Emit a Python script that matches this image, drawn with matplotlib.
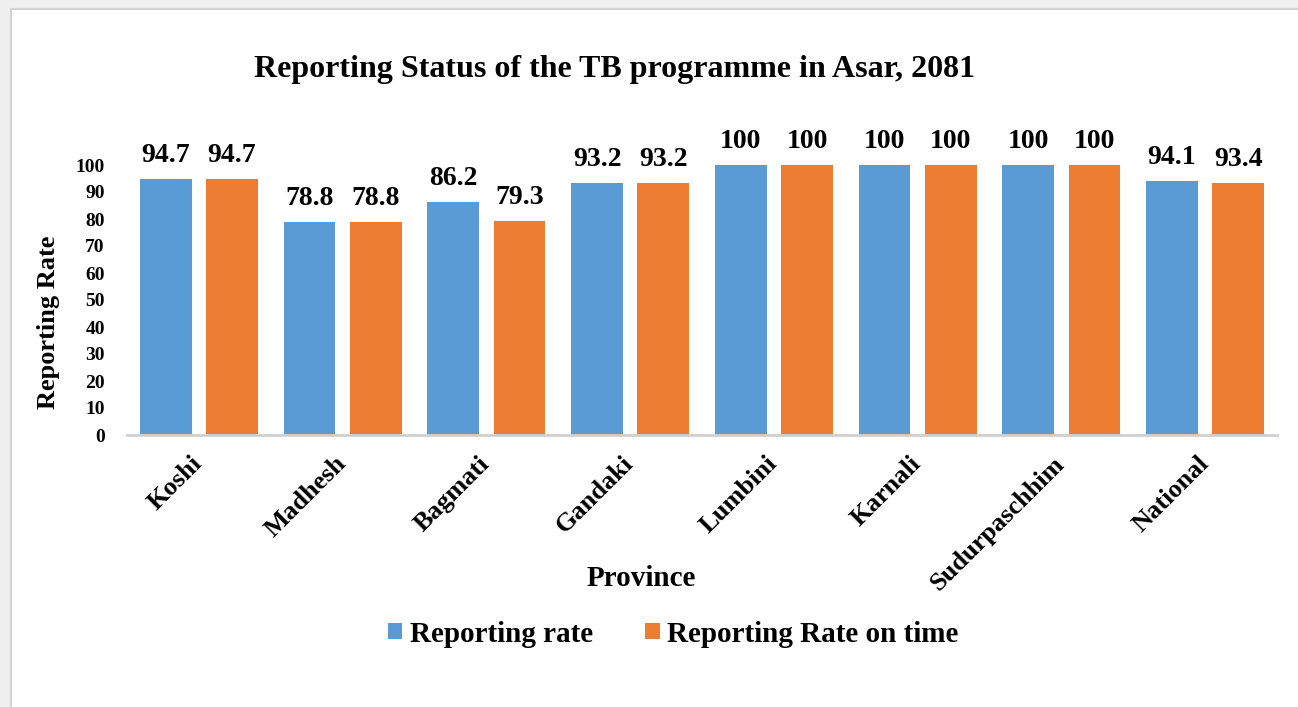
import matplotlib
matplotlib.use("Agg")
import matplotlib.pyplot as plt
import numpy as np
from matplotlib.patches import Rectangle

provinces = ["Koshi", "Madhesh", "Bagmati", "Gandaki", "Lumbini", "Karnali",
             "Sudurpaschhim", "National"]
reporting_rate = [94.7, 78.8, 86.2, 93.2, 100, 100, 100, 94.1]
reporting_on_time = [94.7, 78.8, 79.3, 93.2, 100, 100, 100, 93.4]
series_names = ["Reporting rate", "Reporting Rate on time"]
yticks = list(range(0, 101, 10))

BLUE = "#5B9BD5"
ORANGE = "#ED7D31"
SERIF = ["Liberation Serif", "DejaVu Serif"]

W, H = 1298, 707
fig = plt.figure(figsize=(W / 100, H / 100), dpi=100)
fig.patch.set_facecolor("#F0F0F0")
panel = Rectangle((11 / W, -0.1), 1.2, 1.1 - 9 / H, transform=fig.transFigure,
                  facecolor="white", edgecolor="#D4D4D4", linewidth=1.5, zorder=-10)
fig.add_artist(panel)

ax = fig.add_axes([127 / W, 1 - 435 / H, (1277 - 127) / W, (435 - 165) / H])
ax.set_facecolor("none")
ax.set_zorder(5)

x = np.arange(len(provinces))
bw = 0.36
off = 0.23
b1 = ax.bar(x - off, reporting_rate, bw, color=BLUE, label=series_names[0])
b2 = ax.bar(x + off, reporting_on_time, bw, color=ORANGE, label=series_names[1])

for bars in (b1, b2):
    for rect in bars:
        v = rect.get_height()
        txt = f"{v:g}"
        ax.annotate(txt, (rect.get_x() + rect.get_width() / 2, v),
                    xytext=(0, 8), textcoords="offset points",
                    ha="center", va="bottom", fontsize=20, fontweight="bold",
                    family=SERIF, annotation_clip=False)

ax.set_xlim(-0.5, len(provinces) - 0.5)
ax.set_ylim(0, 100)
ax.set_yticks(yticks)
ax.set_yticklabels([str(t) for t in yticks], fontsize=14, fontweight="bold", family=SERIF)
ax.set_xticks(x)
ax.set_xticklabels(provinces, rotation=45, ha="right", va="center",
                   rotation_mode="anchor", fontsize=19, fontweight="bold", family=SERIF)
ax.tick_params(axis="both", length=0)
ax.tick_params(axis="x", pad=18)
ax.tick_params(axis="y", pad=16)

for s in ("top", "right", "left"):
    ax.spines[s].set_visible(False)
ax.spines["bottom"].set_color("#D0D0D0")
ax.spines["bottom"].set_linewidth(2)

fig.text(615 / W, 1 - 70 / H, "Reporting Status of the TB programme in Asar, 2081",
         ha="center", va="center", fontsize=23, fontweight="bold", family=SERIF)
fig.text(641 / W, 1 - 578 / H, "Province", ha="center", va="center",
         fontsize=21, fontweight="bold", family=SERIF)
fig.text(48 / W, 1 - 322 / H, "Reporting Rate", ha="center", va="center",
         rotation=90, fontsize=19, fontweight="bold", family=SERIF)

leg = fig.legend(handles=[b1, b2], labels=series_names, loc="center",
                 bbox_to_anchor=(673 / W, 1 - 634 / H), ncol=2, frameon=False,
                 prop={"family": SERIF, "weight": "bold", "size": 21},
                 handlelength=0.5, handleheight=0.5, handletextpad=0.25,
                 columnspacing=1.8)

fig.savefig("out.png", dpi=100, facecolor=fig.get_facecolor())
